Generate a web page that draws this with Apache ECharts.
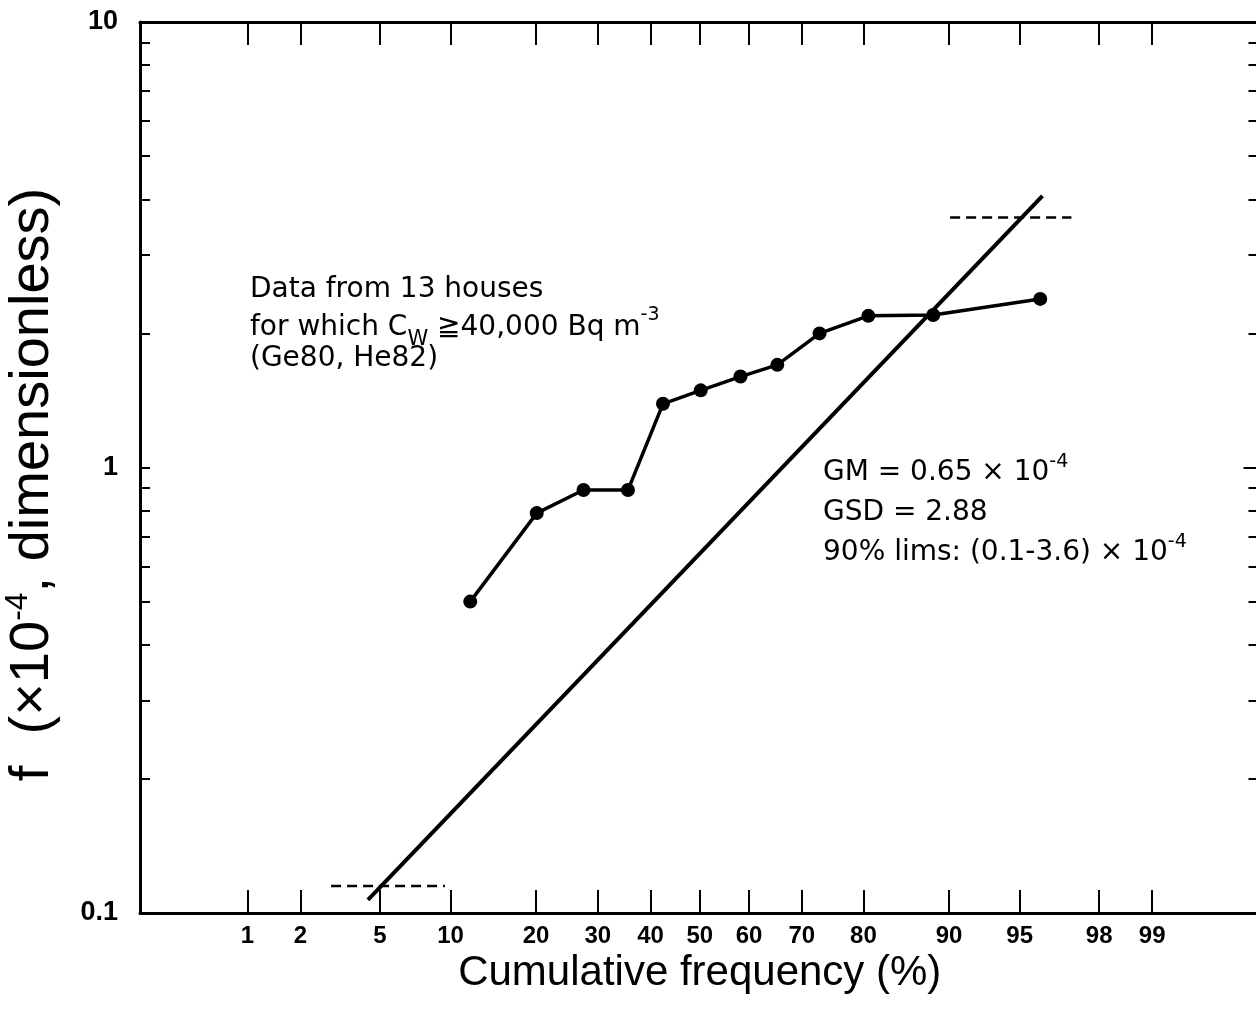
<!DOCTYPE html>
<html>
<head>
<meta charset="utf-8">
<script src="https://cdn.jsdelivr.net/npm/echarts@6/dist/echarts.min.js"></script>
<style>
html,body{margin:0;padding:0;background:#fff;}
#chart{width:1256px;height:1010px;}
</style>
</head>
<body>
<div id="chart"></div>
<script>
// ---- data ----
const pctTicks = [1, 2, 5, 10, 20, 30, 40, 50, 60, 70, 80, 90, 95, 98, 99];
const yLabelTicks = [0.1, 1, 10];
const yMinorTicks = [0.2, 0.3, 0.4, 0.5, 0.6, 0.7, 0.8, 0.9, 2, 3, 4, 5, 6, 7, 8, 9];
const cumFreq = [11.9, 20.1, 27.5, 35.6, 42.5, 50.2, 58.3, 65.5, 73.1, 80.7, 88.5, 96.0];
const fValues = [0.50, 0.79, 0.89, 0.89, 1.39, 1.49, 1.60, 1.70, 2.00, 2.19, 2.20, 2.39];
const fitFreq = [4.4, 96.1];
const fitValues = [0.107, 4.07];
const lowLimFreq = [2.9, 9.5];
const lowLimValues = [0.115, 0.115];
const upLimFreq = [90.1, 97.2];
const upLimValues = [3.64, 3.64];
const axisPctRange = [0.2, 99.8];
const yRange = [0.1, 10];

// inverse normal CDF (probability-paper scale)
function probit(p) {
  const a=[-3.969683028665376e+01,2.209460984245205e+02,-2.759285104469687e+02,1.383577518672690e+02,-3.066479806614716e+01,2.506628277459239e+00];
  const b=[-5.447609879822406e+01,1.615858368580409e+02,-1.556989798598866e+02,6.680131188771972e+01,-1.328068155288572e+01];
  const c=[-7.784894002430293e-03,-3.223964580411365e-01,-2.400758277161838e+00,-2.549732539343734e+00,4.374664141464968e+00,2.938163982698783e+00];
  const d=[7.784695709041462e-03,3.224671290700398e-01,2.445134137142996e+00,3.754408661907416e+00];
  const pl=0.02425, ph=1-pl; let q, r;
  if (p < pl) { q=Math.sqrt(-2*Math.log(p)); return (((((c[0]*q+c[1])*q+c[2])*q+c[3])*q+c[4])*q+c[5])/((((d[0]*q+d[1])*q+d[2])*q+d[3])*q+1); }
  if (p <= ph) { q=p-0.5; r=q*q; return (((((a[0]*r+a[1])*r+a[2])*r+a[3])*r+a[4])*r+a[5])*q/(((((b[0]*r+b[1])*r+b[2])*r+b[3])*r+b[4])*r+1); }
  q=Math.sqrt(-2*Math.log(1-p)); return -(((((c[0]*q+c[1])*q+c[2])*q+c[3])*q+c[4])*q+c[5])/((((d[0]*q+d[1])*q+d[2])*q+d[3])*q+1);
}
const X = pct => probit(pct / 100);
const Y = v => Math.log10(v);
const pairs = (xs, ys) => xs.map((x, i) => [X(x), Y(ys[i])]);

const xTickVals = pctTicks.map(X);
function xLabel(v) {
  let best = 0, bd = Infinity;
  xTickVals.forEach((t, i) => { const dd = Math.abs(t - v); if (dd < bd) { bd = dd; best = i; } });
  return String(pctTicks[best]);
}
function yLabel(v) {
  const val = Math.pow(10, v);
  return String(parseFloat(val.toPrecision(3)));
}

const FONT = "'Liberation Sans', Arial, Helvetica, sans-serif";
const AFONT = "'DejaVu Sans', 'Liberation Sans', sans-serif";
const BLACK = '#000';

const chart = echarts.init(document.getElementById('chart'), null, {renderer: 'canvas'});

const xBase = {
  type: 'value', min: X(axisPctRange[0]), max: X(axisPctRange[1]),
  splitLine: {show: false},
  axisLine: {show: true, onZero: false, lineStyle: {color: BLACK, width: 3}},
  axisTick: {show: true, inside: true, length: 23, customValues: xTickVals, lineStyle: {color: BLACK, width: 2}},
};
const yBase = {
  type: 'value', min: Y(yRange[0]), max: Y(yRange[1]),
  splitLine: {show: false},
  axisLine: {show: true, onZero: false, lineStyle: {color: BLACK, width: 3}},
};
const annot = '28px ' + AFONT;
const supStyle = {fontSize: 19, fontFamily: AFONT, fill: BLACK, verticalAlign: 'top', lineHeight: 40};

const option = {
  backgroundColor: '#fff',
  animation: false,
  grid: {left: 140, top: 22, width: 1119.5, height: 891, containLabel: false, outerBoundsMode: 'none'},
  xAxis: [
    Object.assign({}, xBase, {
      position: 'bottom',
      axisLabel: {show: true, customValues: xTickVals, formatter: xLabel, color: BLACK,
        fontFamily: FONT, fontSize: 24, fontWeight: 'bold', margin: 11},
      name: 'Cumulative frequency (%)', nameLocation: 'middle', nameGap: 30,
      nameTextStyle: {fontFamily: FONT, fontSize: 42, color: BLACK}
    }),
    Object.assign({}, xBase, {position: 'top', axisLabel: {show: false}})
  ],
  yAxis: [
    Object.assign({}, yBase, {
      position: 'left',
      axisTick: {show: true, inside: true, length: 10, customValues: yMinorTicks.concat([1]).map(Y),
        lineStyle: {color: BLACK, width: 2}},
      axisLabel: {show: true, customValues: yLabelTicks.map(Y), formatter: yLabel, color: BLACK,
        fontFamily: FONT, fontSize: 27, fontWeight: 'bold', margin: 22},
      name: 'f  (×10{sup|-4}, dimensionless)', nameLocation: 'middle', nameRotate: 90, nameGap: 76,
      nameTextStyle: {fontFamily: FONT, fontSize: 56, color: BLACK, padding: [0, 34, 0, 0],
        rich: {sup: {fontFamily: FONT, fontSize: 32, color: BLACK, verticalAlign: 'top', lineHeight: 62}}}
    }),
    Object.assign({}, yBase, {
      position: 'right',
      axisTick: {show: true, inside: true, length: 11, customValues: yMinorTicks.map(Y),
        lineStyle: {color: BLACK, width: 2}},
      axisLabel: {show: false}
    }),
    Object.assign({}, yBase, {
      position: 'right',
      axisLine: {show: false, onZero: false},
      axisTick: {show: true, inside: true, length: 16, customValues: [Y(1)],
        lineStyle: {color: BLACK, width: 2}},
      axisLabel: {show: false}
    })
  ],
  series: [
    {
      type: 'line', name: 'data', data: pairs(cumFreq, fValues),
      symbol: 'circle', symbolSize: 14, showSymbol: true,
      lineStyle: {color: BLACK, width: 3.5}, itemStyle: {color: BLACK},
      z: 5
    },
    {
      type: 'line', name: 'fit', data: pairs(fitFreq, fitValues), symbol: 'none',
      lineStyle: {color: BLACK, width: 4}
    },
    {
      type: 'line', name: 'lower limit', data: pairs(lowLimFreq, lowLimValues), symbol: 'none',
      lineStyle: {color: BLACK, width: 2.5, type: [10, 6]}
    },
    {
      type: 'line', name: 'upper limit', data: pairs(upLimFreq, upLimValues), symbol: 'none',
      lineStyle: {color: BLACK, width: 2.5, type: [10, 6]}
    }
  ],
  graphic: [
    {type: 'text', left: 250, top: 276, style: {text: 'Data from 13 houses', fill: BLACK, font: annot}},
    {type: 'text', left: 250, top: 306, style: {
      text: 'for which C{sub|W} ≧40,000 Bq m{sup|-3}', fill: BLACK, font: annot,
      rich: {
        sub: {fontSize: 21, fontFamily: AFONT, fill: BLACK, verticalAlign: 'bottom', lineHeight: 44},
        sup: {fontSize: 19, fontFamily: AFONT, fill: BLACK, verticalAlign: 'top', lineHeight: 44}
      }}},
    {type: 'text', left: 250, top: 345, style: {text: '(Ge80, He82)', fill: BLACK, font: annot}},
    {type: 'text', left: 823, top: 453, style: {
      text: 'GM = 0.65 × 10{sup|-4}', fill: BLACK, font: annot, rich: {sup: supStyle}}},
    {type: 'text', left: 823, top: 499, style: {text: 'GSD = 2.88', fill: BLACK, font: annot}},
    {type: 'text', left: 823, top: 533, style: {
      text: '90% lims: (0.1-3.6) × 10{sup|-4}', fill: BLACK, font: annot, rich: {sup: supStyle}}}
  ]
};
chart.setOption(option);
</script>
</body>
</html>
